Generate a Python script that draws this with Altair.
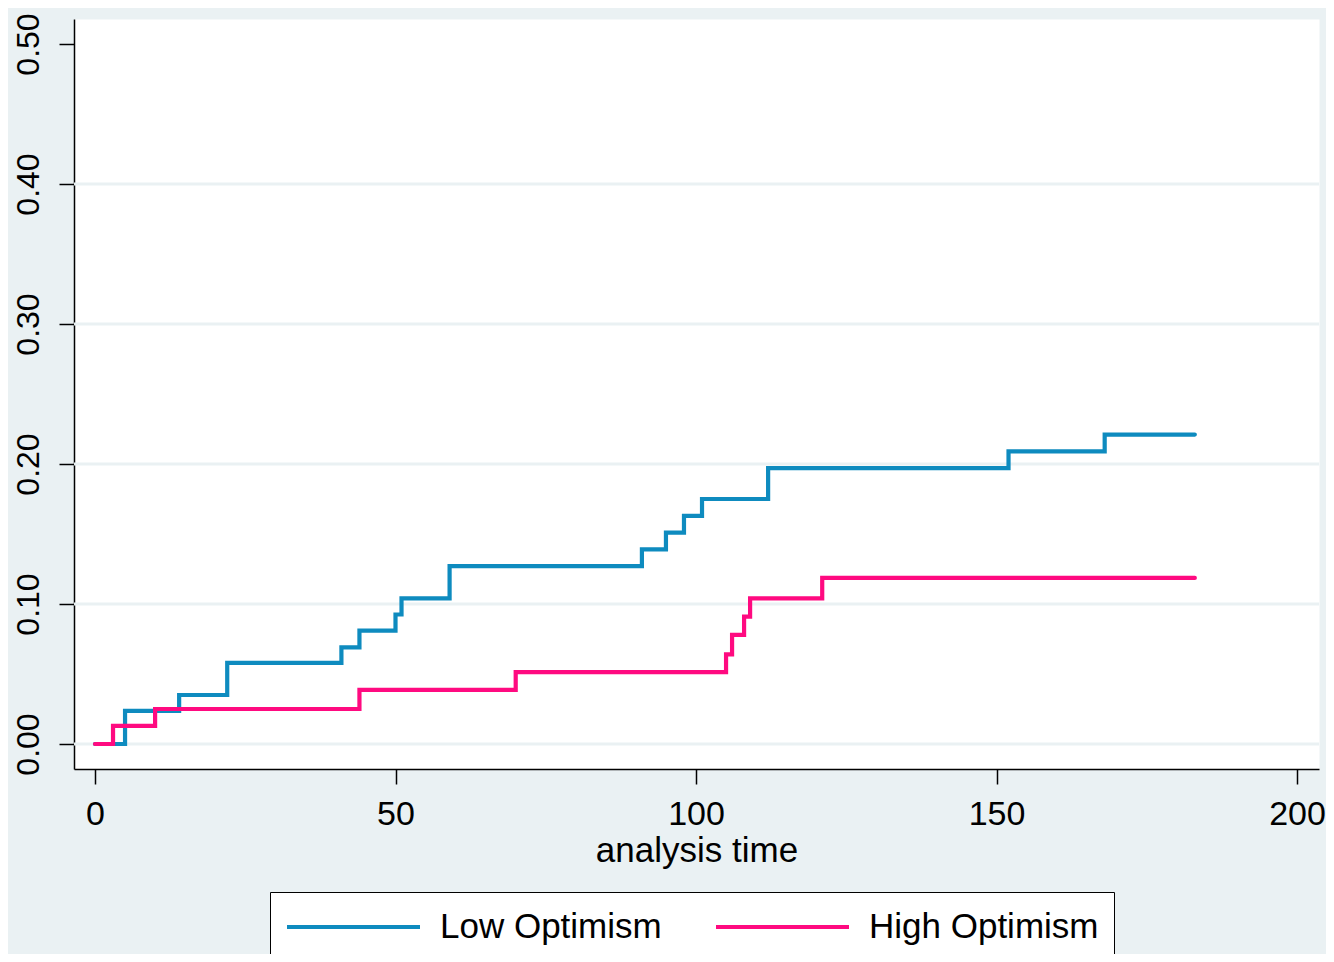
import altair as alt
import pandas as pd

# Kaplan-Meier failure estimates
low_time = [0, 5, 14, 22, 41, 44, 50, 51, 59, 91, 95, 98, 101, 112, 152, 168, 183]
low_fail = [0.0, 0.0236, 0.035, 0.058, 0.069, 0.081, 0.0925, 0.104, 0.127, 0.139,
            0.151, 0.163, 0.175, 0.197, 0.209, 0.221, 0.221]

high_time = [0, 3, 10, 44, 70, 105, 106, 108, 109, 121, 183]
high_fail = [0.0, 0.0129, 0.025, 0.0386, 0.0514, 0.064, 0.078, 0.091, 0.104, 0.1186, 0.1186]

groups = ["Low Optimism", "High Optimism"]
group_colors = ["#0E8BBF", "#FF0A80"]

x_ticks = [0, 50, 100, 150, 200]
y_ticks = [0.0, 0.1, 0.2, 0.3, 0.4, 0.5]
grid_vals = [0.0, 0.1, 0.2, 0.3, 0.4]

df = pd.concat([
    pd.DataFrame({"time": low_time, "fail": low_fail, "group": groups[0], "order": range(len(low_time))}),
    pd.DataFrame({"time": high_time, "fail": high_fail, "group": groups[1], "order": range(len(high_time))}),
])
grid_df = pd.DataFrame({"g": grid_vals})

FONT = "Liberation Sans"
xscale = alt.Scale(domain=[-3.494, 203.66], nice=False, zero=False)
yscale = alt.Scale(domain=[-0.017857, 0.51786], nice=False, zero=False)

grid = alt.Chart(grid_df).mark_rule(color="#EAF1F3", strokeWidth=3).encode(
    y=alt.Y("g:Q", scale=yscale)
)

lines = alt.Chart(df).mark_line(
    interpolate="step-after", strokeWidth=4.2, strokeJoin="miter", strokeCap="round"
).encode(
    x=alt.X("time:Q", scale=xscale,
            axis=alt.Axis(values=x_ticks, title="analysis time", grid=False,
                          tickSize=15, labelFontSize=34, labelPadding=13,
                          titleFontSize=35, titlePadding=2, labelFlush=False,
                          titleFontWeight="normal")),
    y=alt.Y("fail:Q", scale=yscale,
            axis=alt.Axis(values=y_ticks, format=".2f", title=None, grid=False,
                          tickSize=15, labelFontSize=32, labelAngle=270,
                          labelAlign="center", labelBaseline="alphabetic",
                          labelPadding=21)),
    color=alt.Color("group:N", scale=alt.Scale(domain=groups, range=group_colors),
                    legend=alt.Legend(
                        title=None, orient="none", legendX=196, legendY=873,
                        direction="horizontal", columns=2,
                        symbolType="stroke", symbolSize=17689, symbolStrokeWidth=4,
                        clipHeight=40, padding=15, labelOffset=18, columnPadding=52,
                        labelFontSize=35, labelFont=FONT, labelColor="black",
                        labelLimit=0,
                        fillColor="white", strokeColor="black")),
    order="order:Q",
)

chart = alt.layer(grid, lines).properties(
    width=1245, height=750,
    title=alt.TitleParams("Time to Cardiac Readmission", fontSize=36, color="#1c2a5a",
                          font=FONT, fontWeight="normal", anchor="middle",
                          frame="group", baseline="alphabetic", offset=3),
    background="#EAF1F3",
    padding={"left": 66, "top": 11, "right": 7, "bottom": 185},
    autosize=alt.AutoSizeParams(type="none"),
).configure_view(
    fill="white", stroke="transparent"
).configure_axis(
    domainColor="black", domainWidth=1.5, tickColor="black", tickWidth=1.5,
    labelColor="black", titleColor="black", labelFont=FONT, titleFont=FONT
)

chart.save("out.html", embed_options={"renderer": "svg", "actions": False})
